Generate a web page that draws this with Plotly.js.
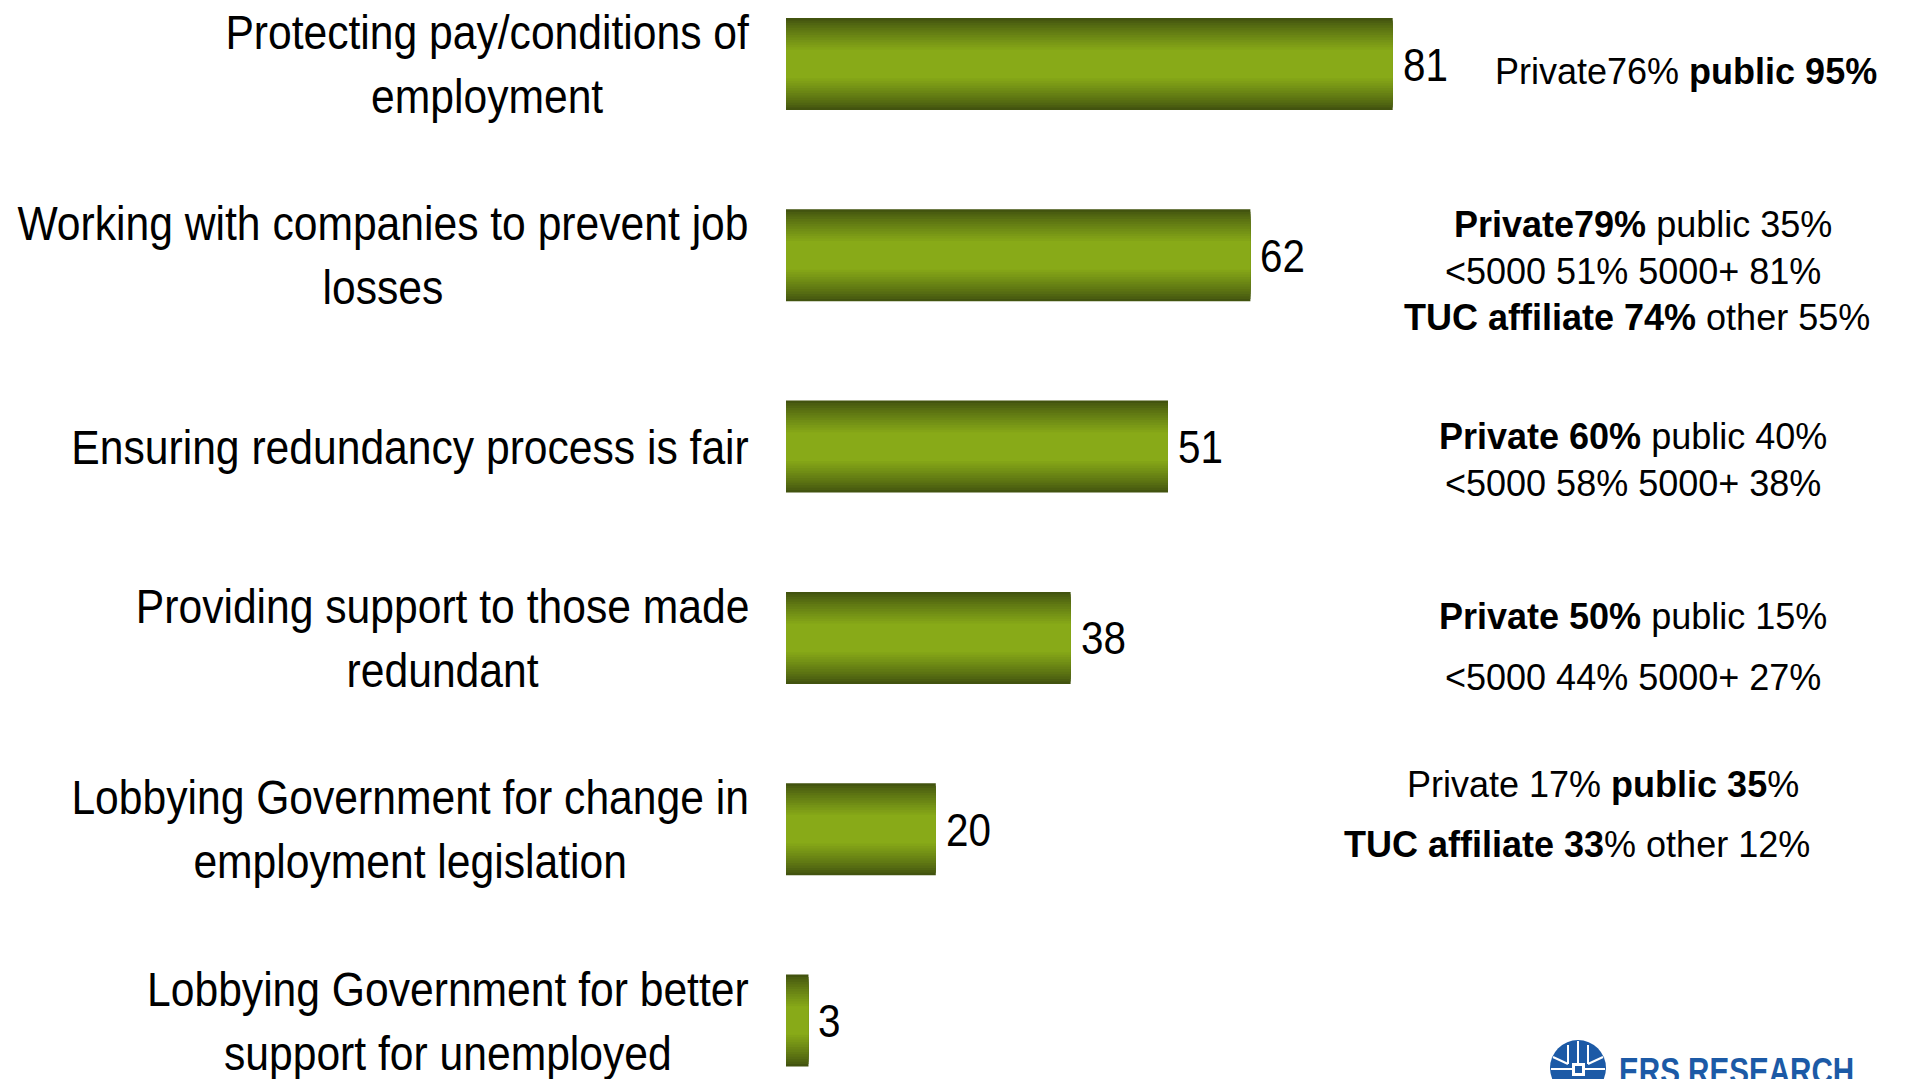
<!DOCTYPE html>
<html>
<head>
<meta charset="utf-8">
<script src="https://cdn.plot.ly/plotly-3.0.1.min.js"></script>
<style>
html,body{margin:0;padding:0;background:#fff;overflow:hidden;}
#chart{width:1908px;height:1079px;}
</style>
</head>
<body>
<div id="chart"></div>
<script>
// ---------- data ----------
const categories = [
  "Protecting pay/conditions of<br>employment",
  "Working with companies to prevent job<br>losses",
  "Ensuring redundancy process is fair",
  "Providing support to those made<br>redundant",
  "Lobbying Government for change in<br>employment legislation",
  "Lobbying Government for better<br>support for unemployed"
];
const values = [81, 62, 51, 38, 20, 3];
const noteLines = [
  ["Private76% <b>public 95%</b>"],
  ["<b>Private79%</b> public 35%", "&lt;5000 51% 5000+ 81%", "<b>TUC affiliate 74%</b> other 55%"],
  ["<b>Private 60%</b> public 40%", "&lt;5000 58% 5000+ 38%"],
  ["<b>Private 50%</b> public 15%", "&lt;5000 44% 5000+ 27%"],
  ["Private 17% <b>public 35</b>%", "<b>TUC affiliate 33</b>% other 12%"],
  []
];
const logoText = "ERS RESEARCH";

// ---------- layout / style ----------
const W = 1908, H = 1079;
const plotLeft = 786;
const plotW = W - plotLeft;
const pxPerUnit = 7.49;
const px2paperX = px => (px - plotLeft) / plotW;
const px2paperY = py => 1 - py / H;

// note placement (pixel x-centre, vertical offsets from bar centre)
const noteStyle = [
  {x: [1686], dy: [7]},
  {x: [1643, 1633, 1637], dy: [-31, 16, 62]},
  {x: [1633, 1633], dy: [-10, 37]},
  {x: [1633, 1633], dy: [-21, 40]},
  {x: [1603, 1577], dy: [-45, 15]},
  {x: [], dy: []}
];

// gradient bars: overlay layers (dark edge -> bright centre)
const dark = [0x42, 0x53, 0x0f], light = [0x88, 0xaa, 0x18];
const N = 14, wOuter = 0.481, wInner = 0.15;
const traces = [];
for (let k = 0; k < N; k++) {
  const t = k / (N - 1);
  const e = Math.pow(t, 0.85);
  const c = dark.map((d, i) => Math.round(d + (light[i] - d) * e));
  traces.push({
    type: 'bar', orientation: 'h',
    x: values, y: categories,
    width: wOuter - t * (wOuter - wInner),
    marker: {color: `rgb(${c[0]},${c[1]},${c[2]})`, line: {width: 0}},
    hoverinfo: 'skip', showlegend: false
  });
}

const annotations = [];
const condensed = []; // [annotation index, scaleX, origin]
// category labels
categories.forEach((c, i) => {
  condensed.push([annotations.length, 0.87, '100% 50%']);
  annotations.push({
    xref: 'paper', yref: 'y', x: px2paperX(751), y: c,
    xanchor: 'right', yanchor: 'middle', align: 'center',
    text: c, showarrow: false,
    font: {family: 'Liberation Sans, Arial, sans-serif', size: 49, color: '#000'}
  });
});
// value labels
values.forEach((v, i) => {
  condensed.push([annotations.length, 0.86, '0% 50%']);
  annotations.push({
    xref: 'x', yref: 'y', x: v, y: categories[i],
    xanchor: 'left', yanchor: 'middle', xshift: 8, yshift: 0,
    text: String(v), showarrow: false,
    font: {family: 'Liberation Sans, Arial, sans-serif', size: 47, color: '#000'}
  });
});
// breakdown notes
noteLines.forEach((lines, i) => {
  lines.forEach((ln, j) => {
    annotations.push({
      xref: 'paper', yref: 'y', x: px2paperX(noteStyle[i].x[j]), y: categories[i],
      xanchor: 'center', yanchor: 'middle', yshift: -noteStyle[i].dy[j],
      text: ln, showarrow: false,
      font: {family: 'Liberation Sans, Arial, sans-serif', size: 36, color: '#000'}
    });
  });
});
// logo text
condensed.push([annotations.length, 0.8, '0% 50%']);
annotations.push({
  xref: 'paper', yref: 'paper', x: px2paperX(1617), y: px2paperY(1049),
  xanchor: 'left', yanchor: 'top', text: '<b>' + logoText + '</b>', showarrow: false,
  font: {family: 'Liberation Sans, Arial, sans-serif', size: 37, color: '#1c5aa6'}
});

// condensed type (the reference uses narrow faces)
const css = condensed.map(([idx, s, o]) =>
  `g.annotation[data-index="${idx}"] text.annotation-text{transform:scaleX(${s});transform-box:fill-box;transform-origin:${o};}`
).join('\n');
const st = document.createElement('style');
st.textContent = css;
document.head.appendChild(st);

// logo globe icon
const blue = '#1c5aa6';
const shapes = [
  {type: 'circle', xref: 'paper', yref: 'paper',
   x0: px2paperX(1550), x1: px2paperX(1606), y0: px2paperY(1040), y1: px2paperY(1096),
   fillcolor: blue, line: {width: 0}},
  {type: 'line', xref: 'paper', yref: 'paper', x0: px2paperX(1578), x1: px2paperX(1578),
   y0: px2paperY(1041), y1: px2paperY(1063), line: {color: '#fff', width: 2}},
  {type: 'line', xref: 'paper', yref: 'paper', x0: px2paperX(1568), x1: px2paperX(1568),
   y0: px2paperY(1045), y1: px2paperY(1064), line: {color: '#fff', width: 2}},
  {type: 'line', xref: 'paper', yref: 'paper', x0: px2paperX(1588), x1: px2paperX(1588),
   y0: px2paperY(1045), y1: px2paperY(1064), line: {color: '#fff', width: 2}},
  {type: 'line', xref: 'paper', yref: 'paper', x0: px2paperX(1551), x1: px2paperX(1605),
   y0: px2paperY(1069), y1: px2paperY(1069), line: {color: '#fff', width: 2}},
  {type: 'line', xref: 'paper', yref: 'paper', x0: px2paperX(1553), x1: px2paperX(1568),
   y0: px2paperY(1057), y1: px2paperY(1064), line: {color: '#fff', width: 2}},
  {type: 'line', xref: 'paper', yref: 'paper', x0: px2paperX(1603), x1: px2paperX(1588),
   y0: px2paperY(1057), y1: px2paperY(1064), line: {color: '#fff', width: 2}},
  {type: 'rect', xref: 'paper', yref: 'paper', x0: px2paperX(1572), x1: px2paperX(1585),
   y0: px2paperY(1063), y1: px2paperY(1076), fillcolor: '#fff', line: {width: 0}},
  {type: 'rect', xref: 'paper', yref: 'paper', x0: px2paperX(1575), x1: px2paperX(1582),
   y0: px2paperY(1066), y1: px2paperY(1073), fillcolor: blue, line: {width: 0}}
];

const layout = {
  width: W, height: H,
  margin: {l: plotLeft, r: 0, t: 0, b: 0, pad: 0},
  paper_bgcolor: '#fff', plot_bgcolor: '#fff',
  barmode: 'overlay',
  showlegend: false,
  xaxis: {range: [0, plotW / pxPerUnit], showgrid: false, zeroline: false,
          showticklabels: false, showline: false, ticks: '', fixedrange: true},
  yaxis: {type: 'category', categoryorder: 'array', categoryarray: categories,
          range: [5.3058, -0.3346], showgrid: false, zeroline: false,
          showticklabels: false, showline: false, ticks: '', fixedrange: true},
  annotations: annotations,
  shapes: shapes,
  hovermode: false
};

Plotly.newPlot('chart', traces, layout, {displayModeBar: false, staticPlot: true});
</script>
</body>
</html>
